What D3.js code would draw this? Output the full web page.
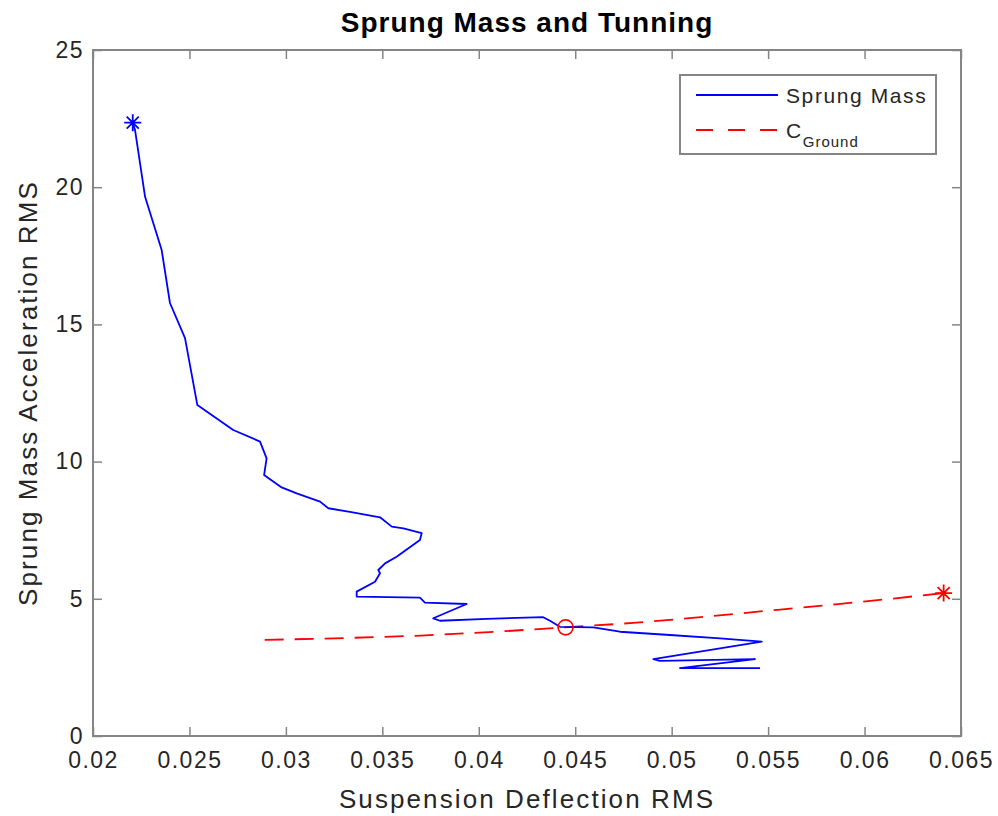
<!DOCTYPE html>
<html>
<head>
<meta charset="utf-8">
<script src="https://cdn.jsdelivr.net/npm/d3@7"></script>
<style>
body { margin: 0; background: #fff; }
text { font-family: "Liberation Sans", Arial, Helvetica, sans-serif; }
</style>
</head>
<body>
<div id="chart"></div>
<script>

// sprung mass response while sweeping the tuning
const sprungDefl = [0.02206, 0.02218, 0.02270, 0.02356, 0.02399, 0.02477, 0.02541, 0.02727, 0.02866, 0.02900,
    0.02887, 0.02978, 0.03056, 0.03177, 0.03220, 0.03332, 0.03488, 0.03549, 0.03609, 0.03704,
    0.03695, 0.03574, 0.03514, 0.03479, 0.03488, 0.03462, 0.03367, 0.03367, 0.03695, 0.03721,
    0.03937, 0.03764, 0.03799, 0.04041, 0.04334, 0.04369, 0.04421, 0.04594, 0.04732, 0.04991,
    0.05251, 0.05467, 0.04905, 0.04939, 0.05432, 0.05043, 0.05458];
const sprungAcc = [22.35, 22.08, 19.65, 17.71, 15.78, 14.50, 12.06, 11.15, 10.73, 10.12,
    9.51, 9.06, 8.84, 8.54, 8.30, 8.17, 7.97, 7.63, 7.57, 7.39,
    7.14, 6.53, 6.29, 6.05, 5.93, 5.62, 5.26, 5.08, 5.04, 4.86,
    4.81, 4.29, 4.20, 4.27, 4.33, 4.20, 3.98, 3.96, 3.80, 3.68,
    3.56, 3.44, 2.80, 2.74, 2.80, 2.47, 2.47];

// C_ground curve
const groundDefl = [0.0289, 0.0320, 0.0350, 0.0370, 0.0409, 0.0445, 0.0480, 0.0515, 0.0555, 0.0585, 0.0615, 0.0641];
const groundAcc = [3.50, 3.55, 3.61, 3.66, 3.80, 3.96, 4.12, 4.33, 4.60, 4.80, 5.01, 5.21];

// tuned point (circle)
const tunedDefl = [0.0445];
const tunedAcc = [3.96];

const xTicks = [0.02, 0.025, 0.03, 0.035, 0.04, 0.045, 0.05, 0.055, 0.06, 0.065];
const xTickLabels = ['0.02', '0.025', '0.03', '0.035', '0.04', '0.045', '0.05', '0.055', '0.06', '0.065'];
const yTicks = [0, 5, 10, 15, 20, 25];
const yTickLabels = ['0', '5', '10', '15', '20', '25'];

const W = 998, H = 816;
const mg = {top: 50, right: 37, bottom: 80, left: 93};
const wd = W - mg.left - mg.right;
const ht = H - mg.top - mg.bottom;
const axisCol = '#858585';
const textCol = '#262626';

const svg = d3.select('#chart').append('svg')
    .attr('width', W)
    .attr('height', H);

const g = svg.append('g')
    .attr('transform', 'translate(' + mg.left + ',' + mg.top + ')');

const x = d3.scaleLinear().domain([0.02, 0.065]).range([0, wd]);
const y = d3.scaleLinear().domain([0, 25]).range([ht, 0]);

// box + axes, ticks pointing inward on every side
g.append('rect')
    .attr('width', wd).attr('height', ht)
    .attr('fill', 'none')
    .attr('stroke', axisCol)
    .attr('stroke-width', 2);

function styleAxis(sel) {
    sel.select('.domain').remove();
    sel.selectAll('.tick line').attr('stroke', axisCol).attr('stroke-width', 1.5);
    sel.selectAll('.tick text')
        .attr('fill', textCol)
        .attr('font-size', 23)
        .attr('letter-spacing', '1.5px')
        .attr('font-family', '"Liberation Sans", Arial, sans-serif');
}

g.append('g')
    .attr('transform', 'translate(0,' + ht + ')')
    .call(d3.axisBottom(x).tickValues(xTicks).tickFormat((d, i) => xTickLabels[i]).tickSizeInner(-9).tickSizeOuter(0).tickPadding(16))
    .call(styleAxis);

g.append('g')
    .call(d3.axisTop(x).tickValues(xTicks).tickFormat('').tickSizeInner(-9).tickSizeOuter(0))
    .call(styleAxis);

g.append('g')
    .call(d3.axisLeft(y).tickValues(yTicks).tickFormat((d, i) => yTickLabels[i]).tickSizeInner(-9).tickSizeOuter(0).tickPadding(9))
    .call(styleAxis);

g.append('g')
    .attr('transform', 'translate(' + wd + ',0)')
    .call(d3.axisRight(y).tickValues(yTicks).tickFormat('').tickSizeInner(-9).tickSizeOuter(0))
    .call(styleAxis);

// lines
const line = d3.line().x(d => x(d[0])).y(d => y(d[1]));

g.append('path')
    .datum(d3.zip(groundDefl, groundAcc))
    .attr('d', line)
    .attr('fill', 'none')
    .attr('stroke', '#ff0000')
    .attr('stroke-width', 1.8)
    .attr('stroke-dasharray', '19,11');

g.append('path')
    .datum(d3.zip(sprungDefl, sprungAcc))
    .attr('d', line)
    .attr('fill', 'none')
    .attr('stroke', '#0000ff')
    .attr('stroke-width', 1.8)
    .attr('stroke-linejoin', 'round');

// '*' marker
function star(r) {
    const a = r * 0.7071;
    return 'M' + (-r) + ',0L' + r + ',0M0,' + (-r) + 'L0,' + r +
        'M' + (-a) + ',' + (-a) + 'L' + a + ',' + a + 'M' + (-a) + ',' + a + 'L' + a + ',' + (-a);
}

g.append('path')
    .attr('d', star(8.5))
    .attr('transform', 'translate(' + x(sprungDefl[0]) + ',' + y(sprungAcc[0]) + ')')
    .attr('fill', 'none')
    .attr('stroke', '#0000ff')
    .attr('stroke-width', 1.8);

const last = groundDefl.length - 1;
g.append('path')
    .attr('d', star(8.5))
    .attr('transform', 'translate(' + x(groundDefl[last]) + ',' + y(groundAcc[last]) + ')')
    .attr('fill', 'none')
    .attr('stroke', '#ff0000')
    .attr('stroke-width', 1.8);

g.selectAll('.tuned')
    .data(d3.zip(tunedDefl, tunedAcc))
    .enter().append('circle')
    .attr('class', 'tuned')
    .attr('cx', d => x(d[0]))
    .attr('cy', d => y(d[1]))
    .attr('r', 7.5)
    .attr('fill', 'none')
    .attr('stroke', '#ff0000')
    .attr('stroke-width', 1.6);

// title and axis labels
svg.append('text')
    .attr('x', mg.left + wd / 2)
    .attr('y', 32)
    .attr('text-anchor', 'middle')
    .attr('font-size', 28)
    .attr('font-weight', 'bold')
    .attr('letter-spacing', '1px')
    .attr('fill', '#000')
    .text('Sprung Mass and Tunning');

svg.append('text')
    .attr('x', mg.left + wd / 2)
    .attr('y', 808)
    .attr('text-anchor', 'middle')
    .attr('font-size', 26)
    .attr('letter-spacing', '2.1px')
    .attr('fill', textCol)
    .text('Suspension Deflection RMS');

svg.append('text')
    .attr('transform', 'translate(37,' + (mg.top + ht / 2) + ') rotate(-90)')
    .attr('text-anchor', 'middle')
    .attr('font-size', 26)
    .attr('letter-spacing', '2.1px')
    .attr('fill', textCol)
    .text('Sprung Mass Acceleration RMS');

// legend
const lg = svg.append('g').attr('transform', 'translate(680,75)');
lg.append('rect')
    .attr('width', 256).attr('height', 79)
    .attr('fill', '#fff')
    .attr('stroke', axisCol)
    .attr('stroke-width', 2);

lg.append('line')
    .attr('x1', 16).attr('x2', 98).attr('y1', 20).attr('y2', 20)
    .attr('stroke', '#0000ff').attr('stroke-width', 1.8);
lg.append('text')
    .attr('x', 106).attr('y', 28)
    .attr('font-size', 21)
    .attr('letter-spacing', '1.6px')
    .attr('fill', textCol)
    .text('Sprung Mass');

lg.append('line')
    .attr('x1', 16).attr('x2', 98).attr('y1', 55).attr('y2', 55)
    .attr('stroke', '#ff0000').attr('stroke-width', 1.8)
    .attr('stroke-dasharray', '17,15');
const cg = lg.append('text')
    .attr('x', 106).attr('y', 63)
    .attr('font-size', 21)
    .attr('letter-spacing', '1.6px')
    .attr('fill', textCol);
cg.append('tspan').text('C');
cg.append('tspan')
    .attr('dy', 9)
    .attr('font-size', 15)
    .attr('letter-spacing', '1px')
    .text('Ground');

</script>
</body>
</html>
